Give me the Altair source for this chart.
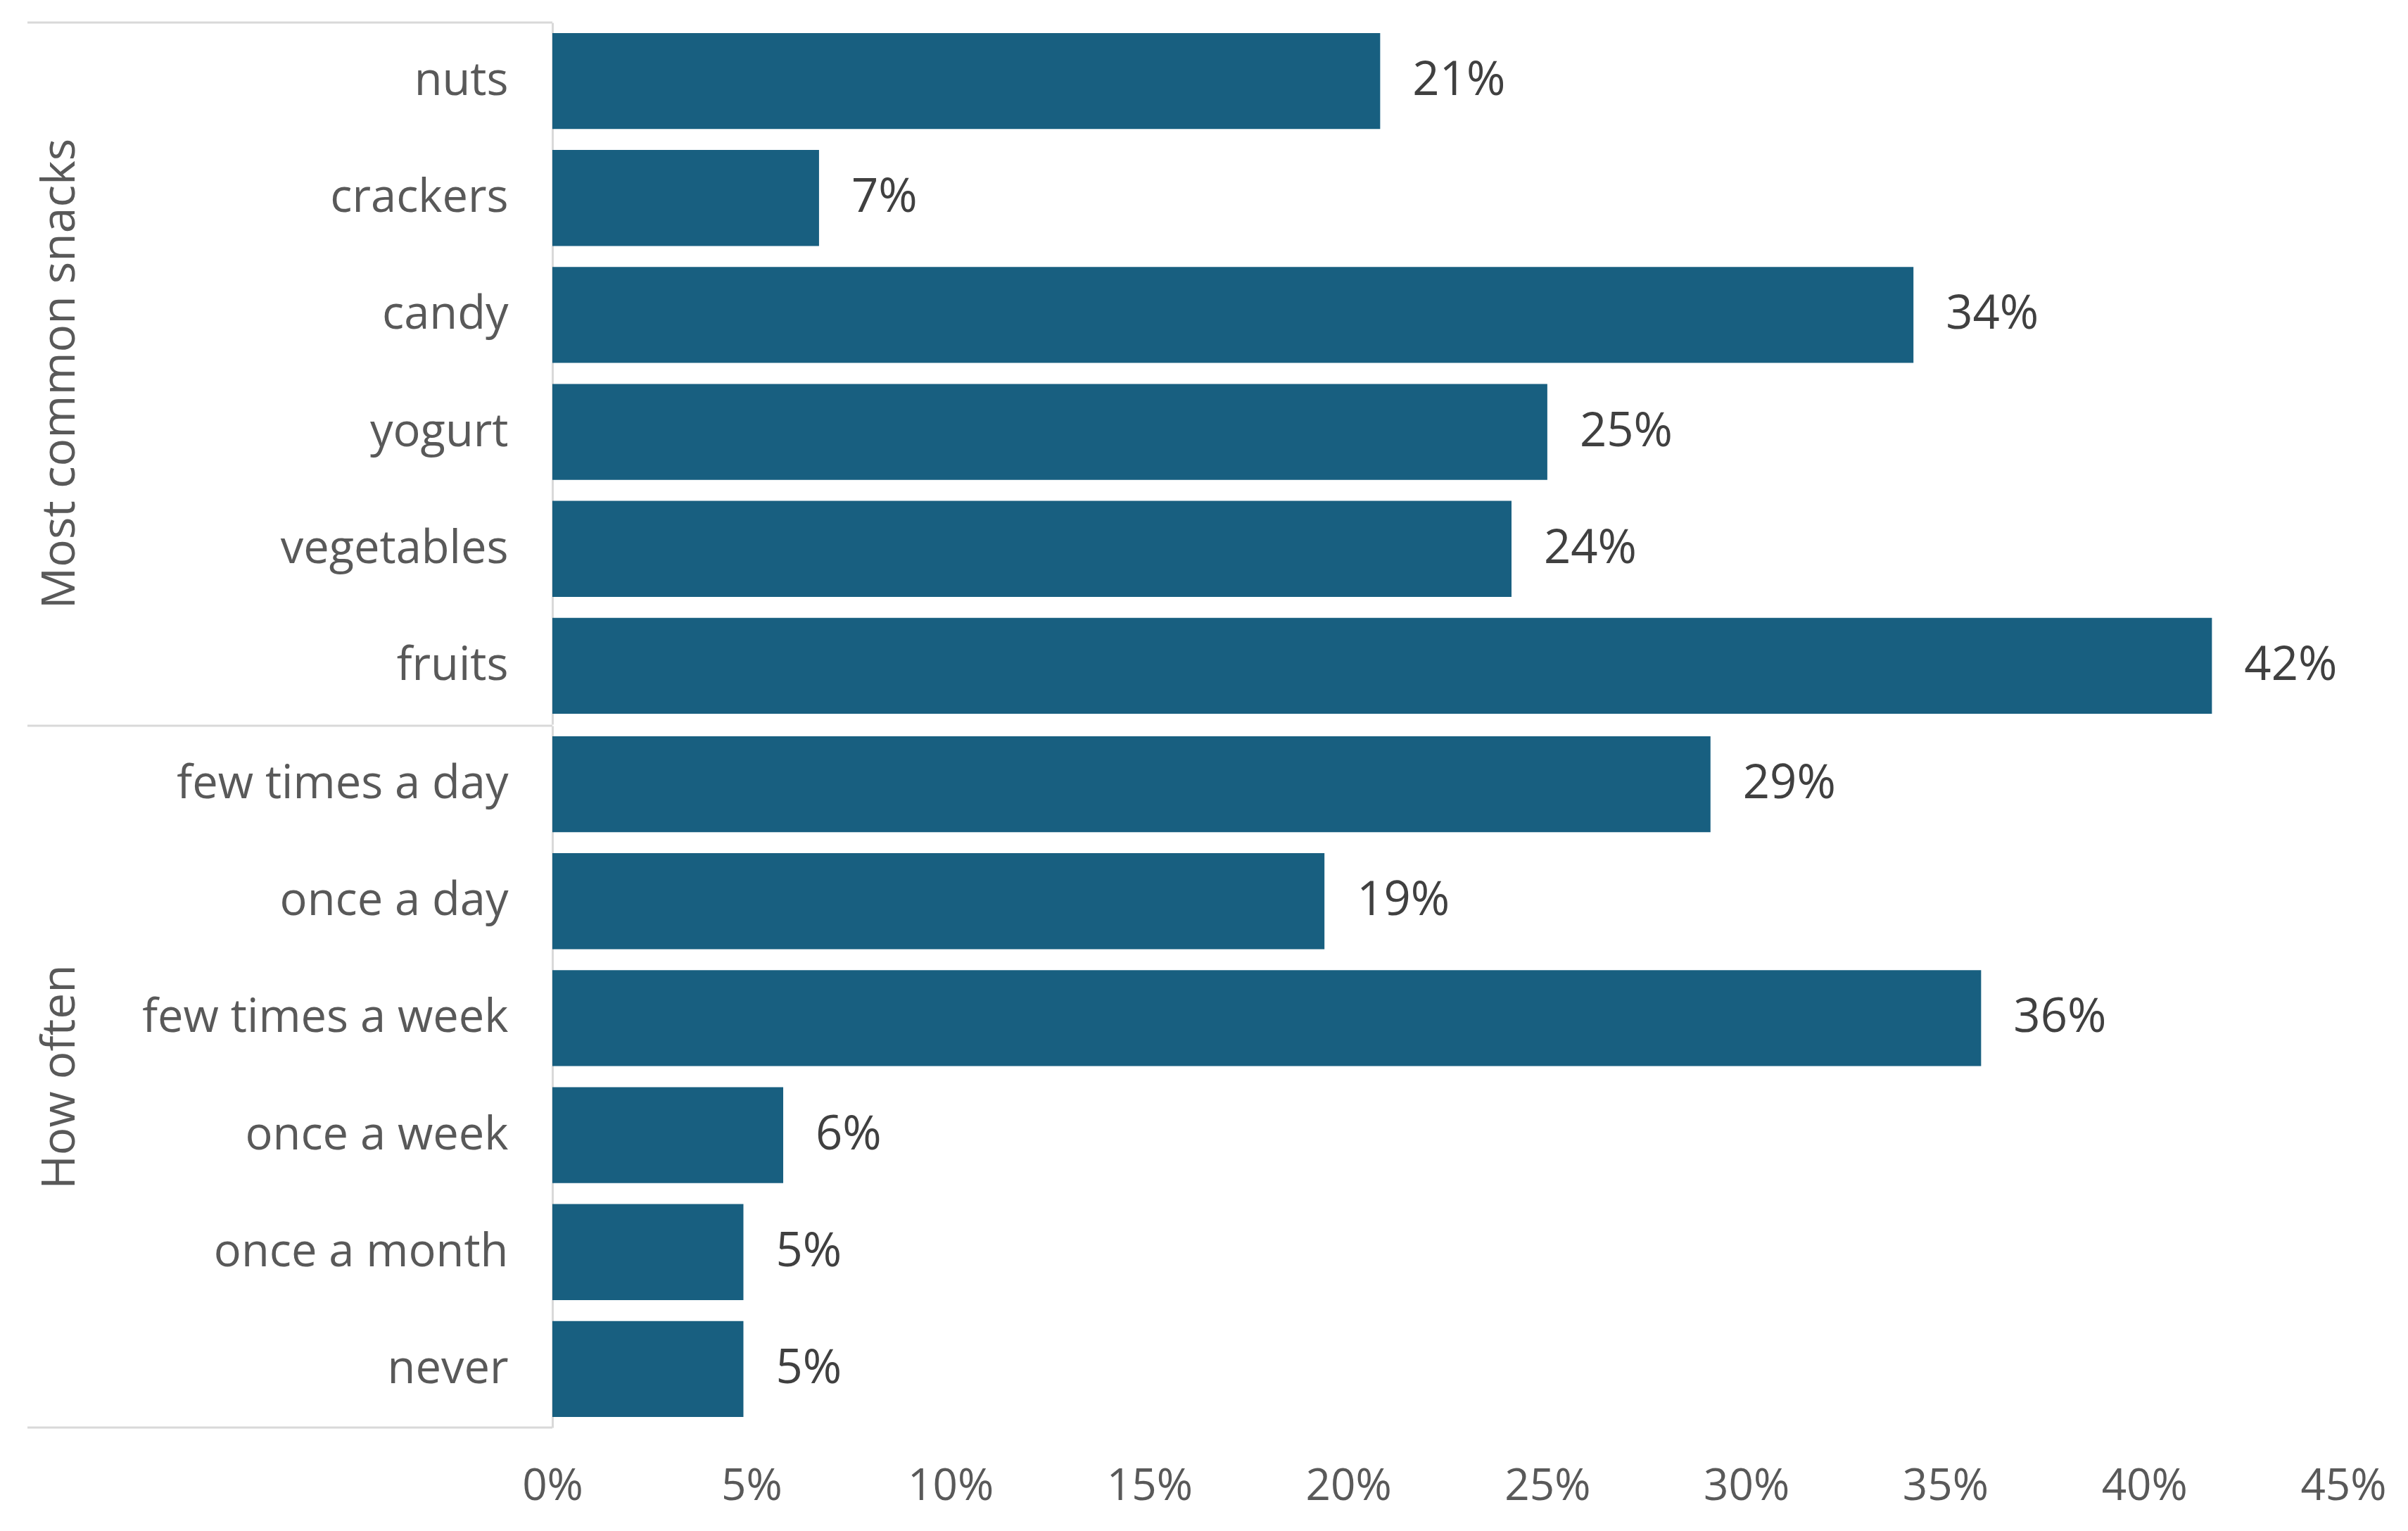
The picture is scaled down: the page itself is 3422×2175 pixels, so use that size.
import altair as alt
import pandas as pd

# ---- data ----
group_names = ["Most common snacks", "How often"]
snack_cats = ["nuts", "crackers", "candy", "yogurt", "vegetables", "fruits"]
snack_vals = [20.8, 6.7, 34.2, 25.0, 24.1, 41.7]
often_cats = ["few times a day", "once a day", "few times a week", "once a week", "once a month", "never"]
often_vals = [29.1, 19.4, 35.9, 5.8, 4.8, 4.8]
x_ticks = [0, 5, 10, 15, 20, 25, 30, 35, 40, 45]

# ---- styling ----
W = 2545
H = 997
BAR = "#185F80"
FONT = "Open Sans"
GRAY = "#595959"
DARK = "#404040"
LINE = "#d9d9d9"


def panel(cats, vals, title, show_x, bottom_rule):
    df = pd.DataFrame({"cat": cats, "val": vals})
    base = alt.Chart(df)
    y_axis = alt.Axis(
        title=title, titleX=-700, titleY=H / 2, titleAngle=-90,
        titleBaseline="middle", titleAlign="center", titleFontSize=66,
        titleFontWeight="normal", titleColor=GRAY, titleFont=FONT,
        labelFontSize=65, labelColor=GRAY, labelFont=FONT, labelPadding=63,
        labelLimit=0, ticks=False, domainColor=LINE, domainWidth=3, grid=False,
    )
    y = alt.Y("cat:N", sort=cats,
              scale=alt.Scale(paddingInner=0.18, paddingOuter=0.09),
              axis=y_axis)
    if show_x:
        x_axis = alt.Axis(values=x_ticks, labelExpr="datum.value + '%'",
                          labelFontSize=62, labelColor=GRAY, labelFont=FONT,
                          labelPadding=53, labelFlush=False, labelOverlap=False,
                          domain=False, ticks=False, grid=False, title=None)
    else:
        x_axis = None
    x = alt.X("val:Q", scale=alt.Scale(domain=[0, 45], nice=False), axis=x_axis)

    bars = base.mark_bar(color=BAR).encode(x=x, y=y)
    labels = base.transform_calculate(
        label="format(datum.val, '.0f') + '%'"
    ).mark_text(align="left", baseline="middle", dx=46, fontSize=67,
                color=DARK, font=FONT).encode(
        x="val:Q", y=alt.Y("cat:N", sort=cats), text="label:N")

    layers = [bars, labels]
    top = alt.Chart(pd.DataFrame({"edge": ["top"]})).mark_rule(
        color=LINE, strokeWidth=3).encode(
        x=alt.value(-746), x2=alt.value(0), y=alt.value(0))
    layers.append(top)
    if bottom_rule:
        bot = alt.Chart(pd.DataFrame({"edge": ["bottom"]})).mark_rule(
            color=LINE, strokeWidth=3).encode(
            x=alt.value(-746), x2=alt.value(0), y=alt.value(H))
        layers.append(bot)
    return alt.layer(*layers).properties(width=W, height=H)


p1 = panel(snack_cats, snack_vals, group_names[0], False, False)
p2 = panel(often_cats, often_vals, group_names[1], True, True)

chart = alt.vconcat(p1, p2, spacing=0).resolve_scale(
    y="independent", x="shared"
).properties(
    padding={"left": 29, "top": 22, "right": 5, "bottom": 5},
    background="white",
).configure_view(stroke=None)

chart.save("out.html", embed_options={"renderer": "svg", "actions": False})
